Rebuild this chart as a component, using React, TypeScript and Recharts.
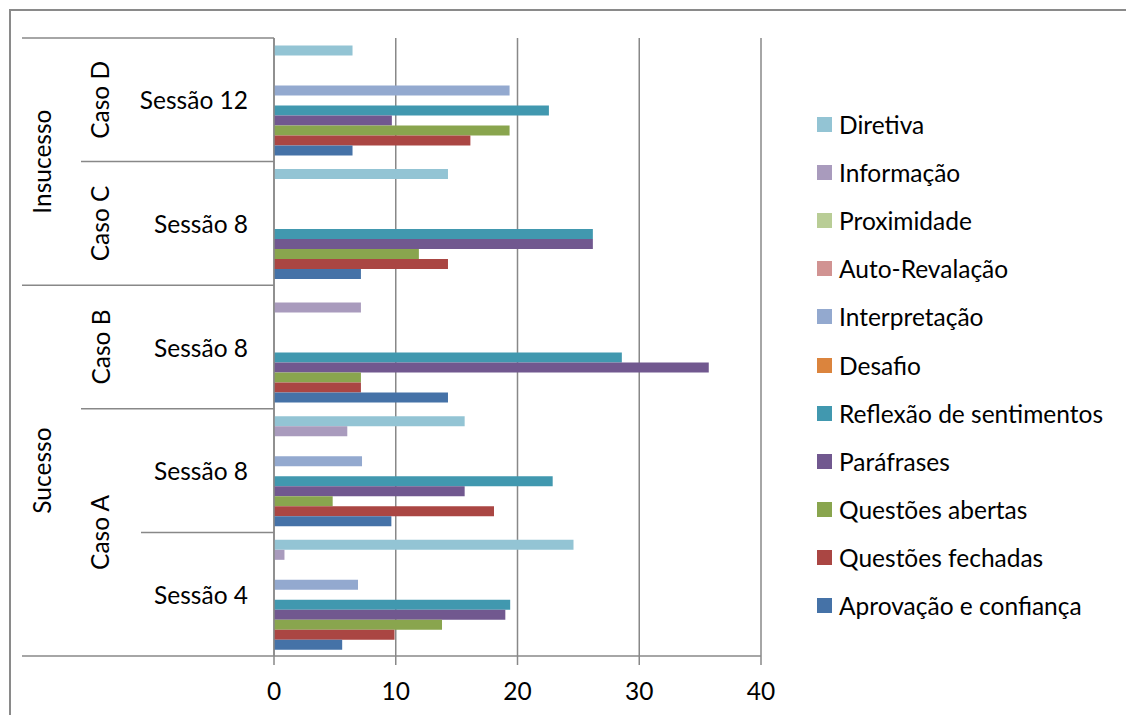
import React from "react";
import { BarChart, Bar, XAxis, YAxis, CartesianGrid } from "recharts";

// rows, top to bottom
const sessoes = ["Sessão 12", "Sessão 8", "Sessão 8", "Sessão 8", "Sessão 4"];
const casos = ["Caso D", "Caso C", "Caso B", "Caso A", "Caso A"];
const grupos = ["Insucesso", "Insucesso", "Sucesso", "Sucesso", "Sucesso"];

// percentages per row (same order as sessoes)
const aprovacao = [6.45, 7.14, 14.29, 9.64, 5.6];
const fechadas = [16.13, 14.29, 7.14, 18.07, 9.9];
const abertas = [19.35, 11.9, 7.14, 4.82, 13.8];
const parafrases = [9.68, 26.19, 35.71, 15.66, 19.0];
const reflexao = [22.58, 26.19, 28.57, 22.89, 19.4];
const desafio = [0, 0, 0, 0, 0];
const interpretacao = [19.35, 0, 0, 7.23, 6.9];
const autoRevelacao = [0, 0, 0, 0, 0];
const proximidade = [0, 0, 0, 0, 0];
const informacao = [0, 0, 7.14, 6.02, 0.86];
const diretiva = [6.45, 14.29, 0, 15.66, 24.6];

const xTicks = [0, 10, 20, 30, 40];

// declared top-down so the first series sits at the bottom of each band
const series = [
  { key: "diretiva", name: "Diretiva", color: "#93C4D4", values: diretiva },
  { key: "informacao", name: "Informação", color: "#A99BBD", values: informacao },
  { key: "proximidade", name: "Proximidade", color: "#B9CD96", values: proximidade },
  { key: "autoRevelacao", name: "Auto-Revalação", color: "#D19392", values: autoRevelacao },
  { key: "interpretacao", name: "Interpretação", color: "#93A9CF", values: interpretacao },
  { key: "desafio", name: "Desafio", color: "#DB843D", values: desafio },
  { key: "reflexao", name: "Reflexão de sentimentos", color: "#4198AF", values: reflexao },
  { key: "parafrases", name: "Paráfrases", color: "#71588F", values: parafrases },
  { key: "abertas", name: "Questões abertas", color: "#89A54E", values: abertas },
  { key: "fechadas", name: "Questões fechadas", color: "#AA4643", values: fechadas },
  { key: "aprovacao", name: "Aprovação e confiança", color: "#4572A7", values: aprovacao },
];

const data = sessoes.map((s, i) => {
  const row: Record<string, any> = { id: i, sessao: s };
  series.forEach((sr) => (row[sr.key] = sr.values[i]));
  return row;
});

const W = 1126;
const H = 715;
const TOP = 38;
const BOTTOM = 59;
const LEFT = 22;
const YAXIS_W = 252;
const RIGHT = 365;
const BAND = (H - TOP - BOTTOM) / sessoes.length;
const AXIS_X = LEFT + YAXIS_W;
const FONT = "Lato, 'Open Sans', sans-serif";
const FS = 24.5;
const GRID = "#888888";

function runLength(arr: string[], i: number) {
  let n = 1;
  while (i + n < arr.length && arr[i + n] === arr[i]) n++;
  return n;
}

function CategoryTick(props: any) {
  const { y, payload } = props;
  const i = Number(payload.value);
  const half = BAND / 2;
  const top = y - half;
  const bottom = y + half;
  const last = i === sessoes.length - 1;
  let lineFrom = 141;
  if (last || grupos[i] !== grupos[i + 1]) lineFrom = LEFT;
  else if (casos[i] !== casos[i + 1]) lineFrom = 81;

  const casoStart = i === 0 || casos[i - 1] !== casos[i];
  const grupoStart = i === 0 || grupos[i - 1] !== grupos[i];
  const casoY = top + (runLength(casos, i) * BAND) / 2;
  const grupoY = top + (runLength(grupos, i) * BAND) / 2;

  return (
    <g>
      {i === 0 && <line x1={LEFT} x2={AXIS_X} y1={top} y2={top} stroke={GRID} strokeWidth={1.5} />}
      <line x1={lineFrom} x2={AXIS_X} y1={bottom} y2={bottom} stroke={GRID} strokeWidth={1.5} />
      <text x={248} y={y} textAnchor="end" dominantBaseline="central" fontSize={FS} fontFamily={FONT} fill="#000">
        {sessoes[i]}
      </text>
      {casoStart && (
        <text
          x={100}
          y={casoY}
          transform={`rotate(-90 100 ${casoY})`}
          textAnchor="middle"
          dominantBaseline="central"
          fontSize={FS}
          fontFamily={FONT}
          fill="#000"
        >
          {casos[i]}
        </text>
      )}
      {grupoStart && (
        <text
          x={42}
          y={grupoY}
          transform={`rotate(-90 42 ${grupoY})`}
          textAnchor="middle"
          dominantBaseline="central"
          fontSize={FS}
          fontFamily={FONT}
          fill="#000"
        >
          {grupos[i]}
        </text>
      )}
    </g>
  );
}

function LegendList() {
  return (
    <div style={{ position: "absolute", left: 817, top: 100.5, fontFamily: FONT, fontSize: FS, color: "#000" }}>
      {series.map((s) => (
        <div key={s.key} style={{ height: 48.1, display: "flex", alignItems: "center", whiteSpace: "nowrap" }}>
          <span style={{ width: 15, height: 15, background: s.color, display: "inline-block", marginRight: 7 }} />
          <span>{s.name}</span>
        </div>
      ))}
    </div>
  );
}

export default function App() {
  return (
    <div style={{ position: "absolute", left: 0, top: 0, width: W, height: H, overflow: "hidden", background: "#fff" }}>
      <div
        style={{
          position: "absolute",
          left: 9,
          top: 9,
          width: W + 40,
          height: H + 40,
          border: "2px solid #8a8a8a",
        }}
      />
      <BarChart
        width={W}
        height={H}
        data={data}
        layout="vertical"
        margin={{ top: TOP, right: RIGHT, bottom: 0, left: LEFT }}
        barCategoryGap="6%"
        barGap={0}
        style={{ position: "absolute", left: 0, top: 0 }}
      >
        <CartesianGrid horizontal={false} stroke={GRID} strokeWidth={1.5} />
        <XAxis
          type="number"
          domain={[0, 40]}
          ticks={xTicks}
          interval={0}
          height={BOTTOM}
          axisLine={{ stroke: GRID, strokeWidth: 1.5 }}
          tickLine={{ stroke: GRID, strokeWidth: 1.5 }}
          tickSize={9}
          tickMargin={18}
          tick={{ fill: "#000", fontSize: FS, fontFamily: FONT }}
        />
        <YAxis
          type="category"
          dataKey="id"
          width={YAXIS_W}
          axisLine={{ stroke: GRID, strokeWidth: 1.5 }}
          tickLine={false}
          interval={0}
          tick={<CategoryTick />}
        />
        {series.map((s) => (
          <Bar key={s.key} dataKey={s.key} name={s.name} fill={s.color} isAnimationActive={false} />
        ))}
      </BarChart>
      <LegendList />
    </div>
  );
}
